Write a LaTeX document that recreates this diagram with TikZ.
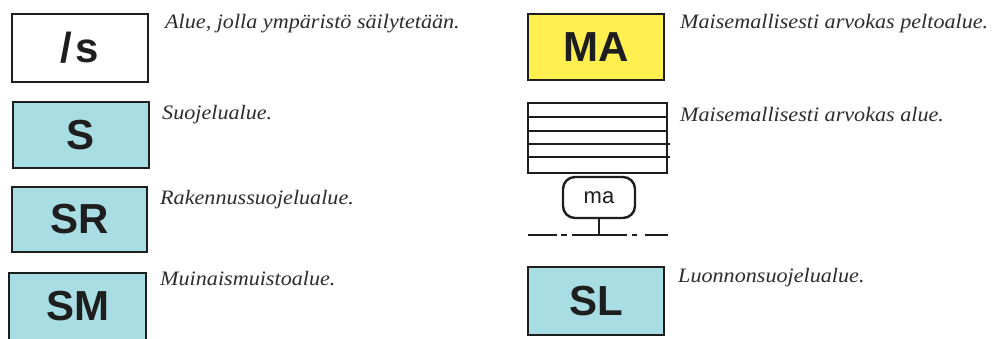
\documentclass[tikz,border=0pt]{standalone}
\usepackage{fontspec}
\setmainfont{Liberation Serif}
\newfontfamily\boxfont{Liberation Sans}
\newfontfamily\descfont[FakeStretch=1.08]{Liberation Serif}
\definecolor{lblue}{RGB}{168,221,227}
\definecolor{lyellow}{RGB}{255,240,80}
\definecolor{ink}{RGB}{30,30,30}
\definecolor{txt}{RGB}{45,45,45}
\begin{document}
\begin{tikzpicture}[x=1pt,y=-1pt,
  codebox/.style={draw=ink,line width=2.6pt,inner sep=0pt,
    font=\boxfont\bfseries\fontsize{42}{46}\selectfont,text=ink},
  desc/.style={anchor=base west,inner sep=0pt,text=txt,
    font=\descfont\itshape\fontsize{20.5}{24}\selectfont},
  hatch/.style={draw=ink,line width=1.6pt},
  manode/.style={draw=ink,line width=2.4pt,rounded corners=12pt,
    minimum width=72pt,minimum height=41pt,inner sep=0pt,
    font=\boxfont\fontsize{22}{24}\selectfont,text=ink}]
\useasboundingbox (0,0) rectangle (997,338);
\fill[white] (0,0) rectangle (997,338);
% left column
\node[codebox,fill=white,minimum width=136pt,minimum height=68pt] (bs) at (80,48) {/\kern3pt s};
\node[codebox,fill=lblue,minimum width=136pt,minimum height=66pt] (bS) at (81,135) {S};
\node[codebox,fill=lblue,minimum width=135pt,minimum height=65pt] (bSR) at (79.5,219.5) {SR};
\node[codebox,fill=lblue,minimum width=137pt,minimum height=67pt] (bSM) at (77.5,306.5) {SM};
\node[desc] (ts) at (165,28) {Alue, jolla ympäristö säilytetään.};
\node[desc] (tS) at (162,119) {Suojelualue.};
\node[desc] (tSR) at (160,204) {Rakennussuojelualue.};
\node[desc] (tSM) at (160,285) {Muinaismuistoalue.};
% right column
\node[codebox,fill=lyellow,minimum width=136pt,minimum height=66pt] (bMA) at (596,47) {MA};
\node[codebox,fill=lblue,minimum width=136pt,minimum height=68pt] (bSL) at (596,301) {SL};
\node[desc] (tMA) at (680,28) {Maisemallisesti arvokas peltoalue.};
\node[desc] (th) at (680,121) {Maisemallisesti arvokas alue.};
\node[desc] (tSL) at (678,282) {Luonnonsuojelualue.};
% hatched area
\node[hatch,minimum width=139pt,minimum height=70pt,inner sep=0pt] (hb) at (597.5,138) {};
\draw[hatch] (hb.west |- 0,117) -- (hb.east |- 0,117);
\draw[hatch] (hb.west |- 0,131) -- (hb.east |- 0,131);
\draw[hatch] (hb.west |- 0,144) -- ([xshift=2pt]hb.east |- 0,144);
\draw[hatch] (hb.west |- 0,157) -- ([xshift=2pt]hb.east |- 0,157);
% ma symbol
\node[manode] (ma) at (599,197.5) {ma};
\coordinate (lineL) at (528,235);
\coordinate (lineR) at (668,235);
\coordinate (lineJ) at (ma.south |- lineL);
\draw[ink,line width=2.8pt,dash pattern={on 29pt off 4pt on 6pt off 5pt on 55pt off 5pt on 5pt off 8pt on 23pt}] (lineL) -- (lineR);
\draw[ink,line width=2.4pt] (ma.south) -- (lineJ);
\end{tikzpicture}
\end{document}
